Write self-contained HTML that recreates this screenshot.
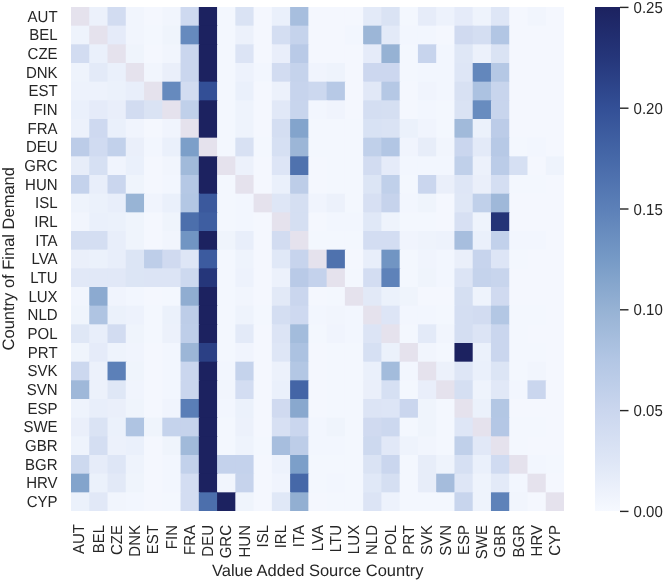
<!DOCTYPE html><html><head><meta charset="utf-8"><style>html,body{margin:0;padding:0;background:#fff;}svg{display:block;will-change:transform;}text{font-family:"Liberation Sans",sans-serif;text-rendering:geometricPrecision;fill:#262626;}</style></head><body>
<svg width="664" height="582" viewBox="0 0 664 582">
<rect width="664" height="582" fill="#fff"/>
<g>
<rect x="71.00" y="7.00" width="19.06" height="19.47" fill="#e5e2ed"/>
<rect x="89.26" y="7.00" width="19.06" height="19.47" fill="#ecf1fb"/>
<rect x="107.52" y="7.00" width="19.06" height="19.47" fill="#d2dcf1"/>
<rect x="125.78" y="7.00" width="19.06" height="19.47" fill="#f1f5fd"/>
<rect x="144.04" y="7.00" width="19.06" height="19.47" fill="#f4f7fe"/>
<rect x="162.30" y="7.00" width="19.06" height="19.47" fill="#f1f5fd"/>
<rect x="180.56" y="7.00" width="19.06" height="19.47" fill="#ced9f0"/>
<rect x="198.81" y="7.00" width="19.06" height="19.47" fill="#1c2260"/>
<rect x="217.07" y="7.00" width="19.06" height="19.47" fill="#f3f7fe"/>
<rect x="235.33" y="7.00" width="19.06" height="19.47" fill="#dae3f4"/>
<rect x="253.59" y="7.00" width="19.06" height="19.47" fill="#f4f7fe"/>
<rect x="271.85" y="7.00" width="19.06" height="19.47" fill="#eaf0fb"/>
<rect x="290.11" y="7.00" width="19.06" height="19.47" fill="#a7bede"/>
<rect x="308.37" y="7.00" width="19.06" height="19.47" fill="#f4f7fe"/>
<rect x="326.63" y="7.00" width="19.06" height="19.47" fill="#f4f7fe"/>
<rect x="344.89" y="7.00" width="19.06" height="19.47" fill="#f4f7fe"/>
<rect x="363.15" y="7.00" width="19.06" height="19.47" fill="#e3eaf8"/>
<rect x="381.41" y="7.00" width="19.06" height="19.47" fill="#dae3f4"/>
<rect x="399.67" y="7.00" width="19.06" height="19.47" fill="#f3f7fe"/>
<rect x="417.93" y="7.00" width="19.06" height="19.47" fill="#e6ecf9"/>
<rect x="436.19" y="7.00" width="19.06" height="19.47" fill="#edf2fc"/>
<rect x="454.44" y="7.00" width="19.06" height="19.47" fill="#e5ebf9"/>
<rect x="472.70" y="7.00" width="19.06" height="19.47" fill="#eef3fc"/>
<rect x="490.96" y="7.00" width="19.06" height="19.47" fill="#dee6f6"/>
<rect x="509.22" y="7.00" width="19.06" height="19.47" fill="#f4f7fe"/>
<rect x="527.48" y="7.00" width="19.06" height="19.47" fill="#f1f5fd"/>
<rect x="545.74" y="7.00" width="18.26" height="19.47" fill="#f4f7fe"/>
<rect x="71.00" y="25.67" width="19.06" height="19.47" fill="#eef3fc"/>
<rect x="89.26" y="25.67" width="19.06" height="19.47" fill="#e5e2ed"/>
<rect x="107.52" y="25.67" width="19.06" height="19.47" fill="#e5ebf9"/>
<rect x="125.78" y="25.67" width="19.06" height="19.47" fill="#f1f5fd"/>
<rect x="144.04" y="25.67" width="19.06" height="19.47" fill="#f3f7fe"/>
<rect x="162.30" y="25.67" width="19.06" height="19.47" fill="#eff4fc"/>
<rect x="180.56" y="25.67" width="19.06" height="19.47" fill="#668abe"/>
<rect x="198.81" y="25.67" width="19.06" height="19.47" fill="#1c2260"/>
<rect x="217.07" y="25.67" width="19.06" height="19.47" fill="#f3f7fe"/>
<rect x="235.33" y="25.67" width="19.06" height="19.47" fill="#ecf1fb"/>
<rect x="253.59" y="25.67" width="19.06" height="19.47" fill="#f4f7fe"/>
<rect x="271.85" y="25.67" width="19.06" height="19.47" fill="#d4def2"/>
<rect x="290.11" y="25.67" width="19.06" height="19.47" fill="#c5d3ec"/>
<rect x="308.37" y="25.67" width="19.06" height="19.47" fill="#f4f7fe"/>
<rect x="326.63" y="25.67" width="19.06" height="19.47" fill="#f4f7fe"/>
<rect x="344.89" y="25.67" width="19.06" height="19.47" fill="#f2f6fe"/>
<rect x="363.15" y="25.67" width="19.06" height="19.47" fill="#9cb6d7"/>
<rect x="381.41" y="25.67" width="19.06" height="19.47" fill="#e3eaf8"/>
<rect x="399.67" y="25.67" width="19.06" height="19.47" fill="#f2f6fe"/>
<rect x="417.93" y="25.67" width="19.06" height="19.47" fill="#f2f6fe"/>
<rect x="436.19" y="25.67" width="19.06" height="19.47" fill="#f4f7fe"/>
<rect x="454.44" y="25.67" width="19.06" height="19.47" fill="#d0daf0"/>
<rect x="472.70" y="25.67" width="19.06" height="19.47" fill="#d4def2"/>
<rect x="490.96" y="25.67" width="19.06" height="19.47" fill="#b2c6e4"/>
<rect x="509.22" y="25.67" width="19.06" height="19.47" fill="#f4f7fe"/>
<rect x="527.48" y="25.67" width="19.06" height="19.47" fill="#f4f7fe"/>
<rect x="545.74" y="25.67" width="18.26" height="19.47" fill="#f4f7fe"/>
<rect x="71.00" y="44.33" width="19.06" height="19.47" fill="#d2dcf1"/>
<rect x="89.26" y="44.33" width="19.06" height="19.47" fill="#eaf0fb"/>
<rect x="107.52" y="44.33" width="19.06" height="19.47" fill="#e5e2ed"/>
<rect x="125.78" y="44.33" width="19.06" height="19.47" fill="#eff4fc"/>
<rect x="144.04" y="44.33" width="19.06" height="19.47" fill="#f4f7fe"/>
<rect x="162.30" y="44.33" width="19.06" height="19.47" fill="#f1f5fd"/>
<rect x="180.56" y="44.33" width="19.06" height="19.47" fill="#cad6ee"/>
<rect x="198.81" y="44.33" width="19.06" height="19.47" fill="#1c2260"/>
<rect x="217.07" y="44.33" width="19.06" height="19.47" fill="#f3f7fe"/>
<rect x="235.33" y="44.33" width="19.06" height="19.47" fill="#dce4f5"/>
<rect x="253.59" y="44.33" width="19.06" height="19.47" fill="#f4f7fe"/>
<rect x="271.85" y="44.33" width="19.06" height="19.47" fill="#e9eefa"/>
<rect x="290.11" y="44.33" width="19.06" height="19.47" fill="#b9cae7"/>
<rect x="308.37" y="44.33" width="19.06" height="19.47" fill="#f4f7fe"/>
<rect x="326.63" y="44.33" width="19.06" height="19.47" fill="#f4f7fe"/>
<rect x="344.89" y="44.33" width="19.06" height="19.47" fill="#f4f7fe"/>
<rect x="363.15" y="44.33" width="19.06" height="19.47" fill="#e5ebf9"/>
<rect x="381.41" y="44.33" width="19.06" height="19.47" fill="#96b2d4"/>
<rect x="399.67" y="44.33" width="19.06" height="19.47" fill="#f3f7fe"/>
<rect x="417.93" y="44.33" width="19.06" height="19.47" fill="#c7d4ed"/>
<rect x="436.19" y="44.33" width="19.06" height="19.47" fill="#f2f6fe"/>
<rect x="454.44" y="44.33" width="19.06" height="19.47" fill="#dfe7f6"/>
<rect x="472.70" y="44.33" width="19.06" height="19.47" fill="#ecf1fb"/>
<rect x="490.96" y="44.33" width="19.06" height="19.47" fill="#dae3f4"/>
<rect x="509.22" y="44.33" width="19.06" height="19.47" fill="#f4f7fe"/>
<rect x="527.48" y="44.33" width="19.06" height="19.47" fill="#f4f7fe"/>
<rect x="545.74" y="44.33" width="18.26" height="19.47" fill="#f4f7fe"/>
<rect x="71.00" y="63.00" width="19.06" height="19.47" fill="#eef3fc"/>
<rect x="89.26" y="63.00" width="19.06" height="19.47" fill="#e3eaf8"/>
<rect x="107.52" y="63.00" width="19.06" height="19.47" fill="#eaf0fb"/>
<rect x="125.78" y="63.00" width="19.06" height="19.47" fill="#e5e2ed"/>
<rect x="144.04" y="63.00" width="19.06" height="19.47" fill="#f1f5fd"/>
<rect x="162.30" y="63.00" width="19.06" height="19.47" fill="#eaeffa"/>
<rect x="180.56" y="63.00" width="19.06" height="19.47" fill="#cad6ee"/>
<rect x="198.81" y="63.00" width="19.06" height="19.47" fill="#1c2260"/>
<rect x="217.07" y="63.00" width="19.06" height="19.47" fill="#f3f7fe"/>
<rect x="235.33" y="63.00" width="19.06" height="19.47" fill="#edf2fc"/>
<rect x="253.59" y="63.00" width="19.06" height="19.47" fill="#f2f6fe"/>
<rect x="271.85" y="63.00" width="19.06" height="19.47" fill="#d2dcf1"/>
<rect x="290.11" y="63.00" width="19.06" height="19.47" fill="#c5d3ec"/>
<rect x="308.37" y="63.00" width="19.06" height="19.47" fill="#f0f4fd"/>
<rect x="326.63" y="63.00" width="19.06" height="19.47" fill="#eef3fc"/>
<rect x="344.89" y="63.00" width="19.06" height="19.47" fill="#f4f7fe"/>
<rect x="363.15" y="63.00" width="19.06" height="19.47" fill="#ccd7ef"/>
<rect x="381.41" y="63.00" width="19.06" height="19.47" fill="#ccd7ef"/>
<rect x="399.67" y="63.00" width="19.06" height="19.47" fill="#f3f7fe"/>
<rect x="417.93" y="63.00" width="19.06" height="19.47" fill="#f2f6fe"/>
<rect x="436.19" y="63.00" width="19.06" height="19.47" fill="#f2f6fe"/>
<rect x="454.44" y="63.00" width="19.06" height="19.47" fill="#dee6f6"/>
<rect x="472.70" y="63.00" width="19.06" height="19.47" fill="#6387bc"/>
<rect x="490.96" y="63.00" width="19.06" height="19.47" fill="#b5c8e5"/>
<rect x="509.22" y="63.00" width="19.06" height="19.47" fill="#f4f7fe"/>
<rect x="527.48" y="63.00" width="19.06" height="19.47" fill="#f4f7fe"/>
<rect x="545.74" y="63.00" width="18.26" height="19.47" fill="#f4f7fe"/>
<rect x="71.00" y="81.67" width="19.06" height="19.47" fill="#edf2fc"/>
<rect x="89.26" y="81.67" width="19.06" height="19.47" fill="#edf2fc"/>
<rect x="107.52" y="81.67" width="19.06" height="19.47" fill="#ebf1fb"/>
<rect x="125.78" y="81.67" width="19.06" height="19.47" fill="#e8eefa"/>
<rect x="144.04" y="81.67" width="19.06" height="19.47" fill="#e5e2ed"/>
<rect x="162.30" y="81.67" width="19.06" height="19.47" fill="#668abe"/>
<rect x="180.56" y="81.67" width="19.06" height="19.47" fill="#d2dcf1"/>
<rect x="198.81" y="81.67" width="19.06" height="19.47" fill="#334f96"/>
<rect x="217.07" y="81.67" width="19.06" height="19.47" fill="#f3f7fe"/>
<rect x="235.33" y="81.67" width="19.06" height="19.47" fill="#eaf0fb"/>
<rect x="253.59" y="81.67" width="19.06" height="19.47" fill="#f4f7fe"/>
<rect x="271.85" y="81.67" width="19.06" height="19.47" fill="#ecf1fb"/>
<rect x="290.11" y="81.67" width="19.06" height="19.47" fill="#c7d4ed"/>
<rect x="308.37" y="81.67" width="19.06" height="19.47" fill="#ccd8ef"/>
<rect x="326.63" y="81.67" width="19.06" height="19.47" fill="#b7c9e6"/>
<rect x="344.89" y="81.67" width="19.06" height="19.47" fill="#f4f7fe"/>
<rect x="363.15" y="81.67" width="19.06" height="19.47" fill="#e1e8f7"/>
<rect x="381.41" y="81.67" width="19.06" height="19.47" fill="#b5c8e5"/>
<rect x="399.67" y="81.67" width="19.06" height="19.47" fill="#f4f7fe"/>
<rect x="417.93" y="81.67" width="19.06" height="19.47" fill="#f0f4fd"/>
<rect x="436.19" y="81.67" width="19.06" height="19.47" fill="#f2f6fe"/>
<rect x="454.44" y="81.67" width="19.06" height="19.47" fill="#d8e1f3"/>
<rect x="472.70" y="81.67" width="19.06" height="19.47" fill="#acc2e1"/>
<rect x="490.96" y="81.67" width="19.06" height="19.47" fill="#c8d5ed"/>
<rect x="509.22" y="81.67" width="19.06" height="19.47" fill="#f4f7fe"/>
<rect x="527.48" y="81.67" width="19.06" height="19.47" fill="#f4f7fe"/>
<rect x="545.74" y="81.67" width="18.26" height="19.47" fill="#f4f7fe"/>
<rect x="71.00" y="100.33" width="19.06" height="19.47" fill="#eaf0fb"/>
<rect x="89.26" y="100.33" width="19.06" height="19.47" fill="#e5ebf9"/>
<rect x="107.52" y="100.33" width="19.06" height="19.47" fill="#e9eefa"/>
<rect x="125.78" y="100.33" width="19.06" height="19.47" fill="#d2dcf1"/>
<rect x="144.04" y="100.33" width="19.06" height="19.47" fill="#dae3f4"/>
<rect x="162.30" y="100.33" width="19.06" height="19.47" fill="#e5e2ed"/>
<rect x="180.56" y="100.33" width="19.06" height="19.47" fill="#c0d0ea"/>
<rect x="198.81" y="100.33" width="19.06" height="19.47" fill="#1c2260"/>
<rect x="217.07" y="100.33" width="19.06" height="19.47" fill="#f3f7fe"/>
<rect x="235.33" y="100.33" width="19.06" height="19.47" fill="#eef3fc"/>
<rect x="253.59" y="100.33" width="19.06" height="19.47" fill="#f4f7fe"/>
<rect x="271.85" y="100.33" width="19.06" height="19.47" fill="#e1e8f7"/>
<rect x="290.11" y="100.33" width="19.06" height="19.47" fill="#c8d5ed"/>
<rect x="308.37" y="100.33" width="19.06" height="19.47" fill="#f2f6fe"/>
<rect x="326.63" y="100.33" width="19.06" height="19.47" fill="#f0f4fd"/>
<rect x="344.89" y="100.33" width="19.06" height="19.47" fill="#f4f7fe"/>
<rect x="363.15" y="100.33" width="19.06" height="19.47" fill="#d4def2"/>
<rect x="381.41" y="100.33" width="19.06" height="19.47" fill="#d5dff2"/>
<rect x="399.67" y="100.33" width="19.06" height="19.47" fill="#f4f7fe"/>
<rect x="417.93" y="100.33" width="19.06" height="19.47" fill="#f2f6fe"/>
<rect x="436.19" y="100.33" width="19.06" height="19.47" fill="#f3f7fe"/>
<rect x="454.44" y="100.33" width="19.06" height="19.47" fill="#dae3f4"/>
<rect x="472.70" y="100.33" width="19.06" height="19.47" fill="#688cbf"/>
<rect x="490.96" y="100.33" width="19.06" height="19.47" fill="#c8d5ed"/>
<rect x="509.22" y="100.33" width="19.06" height="19.47" fill="#f4f7fe"/>
<rect x="527.48" y="100.33" width="19.06" height="19.47" fill="#f4f7fe"/>
<rect x="545.74" y="100.33" width="18.26" height="19.47" fill="#f4f7fe"/>
<rect x="71.00" y="119.00" width="19.06" height="19.47" fill="#ecf1fb"/>
<rect x="89.26" y="119.00" width="19.06" height="19.47" fill="#ced9f0"/>
<rect x="107.52" y="119.00" width="19.06" height="19.47" fill="#eaf0fb"/>
<rect x="125.78" y="119.00" width="19.06" height="19.47" fill="#f0f4fd"/>
<rect x="144.04" y="119.00" width="19.06" height="19.47" fill="#f4f7fe"/>
<rect x="162.30" y="119.00" width="19.06" height="19.47" fill="#f0f4fd"/>
<rect x="180.56" y="119.00" width="19.06" height="19.47" fill="#e5e2ed"/>
<rect x="198.81" y="119.00" width="19.06" height="19.47" fill="#1c2260"/>
<rect x="217.07" y="119.00" width="19.06" height="19.47" fill="#f3f7fe"/>
<rect x="235.33" y="119.00" width="19.06" height="19.47" fill="#eef3fc"/>
<rect x="253.59" y="119.00" width="19.06" height="19.47" fill="#f4f7fe"/>
<rect x="271.85" y="119.00" width="19.06" height="19.47" fill="#d4def2"/>
<rect x="290.11" y="119.00" width="19.06" height="19.47" fill="#83a4cc"/>
<rect x="308.37" y="119.00" width="19.06" height="19.47" fill="#f3f7fe"/>
<rect x="326.63" y="119.00" width="19.06" height="19.47" fill="#f3f7fe"/>
<rect x="344.89" y="119.00" width="19.06" height="19.47" fill="#f3f7fe"/>
<rect x="363.15" y="119.00" width="19.06" height="19.47" fill="#d8e2f4"/>
<rect x="381.41" y="119.00" width="19.06" height="19.47" fill="#dae3f4"/>
<rect x="399.67" y="119.00" width="19.06" height="19.47" fill="#ebf1fb"/>
<rect x="417.93" y="119.00" width="19.06" height="19.47" fill="#f0f4fd"/>
<rect x="436.19" y="119.00" width="19.06" height="19.47" fill="#f3f7fe"/>
<rect x="454.44" y="119.00" width="19.06" height="19.47" fill="#a1bada"/>
<rect x="472.70" y="119.00" width="19.06" height="19.47" fill="#ebf1fb"/>
<rect x="490.96" y="119.00" width="19.06" height="19.47" fill="#bccce8"/>
<rect x="509.22" y="119.00" width="19.06" height="19.47" fill="#f4f7fe"/>
<rect x="527.48" y="119.00" width="19.06" height="19.47" fill="#f4f7fe"/>
<rect x="545.74" y="119.00" width="18.26" height="19.47" fill="#f4f7fe"/>
<rect x="71.00" y="137.67" width="19.06" height="19.47" fill="#bccce8"/>
<rect x="89.26" y="137.67" width="19.06" height="19.47" fill="#d0dbf1"/>
<rect x="107.52" y="137.67" width="19.06" height="19.47" fill="#c2d1eb"/>
<rect x="125.78" y="137.67" width="19.06" height="19.47" fill="#eaeffa"/>
<rect x="144.04" y="137.67" width="19.06" height="19.47" fill="#f2f6fe"/>
<rect x="162.30" y="137.67" width="19.06" height="19.47" fill="#eaf0fb"/>
<rect x="180.56" y="137.67" width="19.06" height="19.47" fill="#7c9fc9"/>
<rect x="198.81" y="137.67" width="19.06" height="19.47" fill="#e5e2ed"/>
<rect x="217.07" y="137.67" width="19.06" height="19.47" fill="#f3f7fe"/>
<rect x="235.33" y="137.67" width="19.06" height="19.47" fill="#d8e1f3"/>
<rect x="253.59" y="137.67" width="19.06" height="19.47" fill="#f3f7fe"/>
<rect x="271.85" y="137.67" width="19.06" height="19.47" fill="#d6e0f3"/>
<rect x="290.11" y="137.67" width="19.06" height="19.47" fill="#9cb6d7"/>
<rect x="308.37" y="137.67" width="19.06" height="19.47" fill="#f3f7fe"/>
<rect x="326.63" y="137.67" width="19.06" height="19.47" fill="#f3f7fe"/>
<rect x="344.89" y="137.67" width="19.06" height="19.47" fill="#f3f7fe"/>
<rect x="363.15" y="137.67" width="19.06" height="19.47" fill="#c0d0ea"/>
<rect x="381.41" y="137.67" width="19.06" height="19.47" fill="#b2c6e4"/>
<rect x="399.67" y="137.67" width="19.06" height="19.47" fill="#f0f4fd"/>
<rect x="417.93" y="137.67" width="19.06" height="19.47" fill="#e7edf9"/>
<rect x="436.19" y="137.67" width="19.06" height="19.47" fill="#f1f5fd"/>
<rect x="454.44" y="137.67" width="19.06" height="19.47" fill="#cad6ee"/>
<rect x="472.70" y="137.67" width="19.06" height="19.47" fill="#e3eaf8"/>
<rect x="490.96" y="137.67" width="19.06" height="19.47" fill="#b7c9e6"/>
<rect x="509.22" y="137.67" width="19.06" height="19.47" fill="#f3f7fe"/>
<rect x="527.48" y="137.67" width="19.06" height="19.47" fill="#f2f6fe"/>
<rect x="545.74" y="137.67" width="18.26" height="19.47" fill="#f4f7fe"/>
<rect x="71.00" y="156.33" width="19.06" height="19.47" fill="#e7edf9"/>
<rect x="89.26" y="156.33" width="19.06" height="19.47" fill="#d6e0f3"/>
<rect x="107.52" y="156.33" width="19.06" height="19.47" fill="#f0f4fd"/>
<rect x="125.78" y="156.33" width="19.06" height="19.47" fill="#eaf0fb"/>
<rect x="144.04" y="156.33" width="19.06" height="19.47" fill="#f4f7fe"/>
<rect x="162.30" y="156.33" width="19.06" height="19.47" fill="#f1f5fd"/>
<rect x="180.56" y="156.33" width="19.06" height="19.47" fill="#a1bada"/>
<rect x="198.81" y="156.33" width="19.06" height="19.47" fill="#1c2260"/>
<rect x="217.07" y="156.33" width="19.06" height="19.47" fill="#e5e2ed"/>
<rect x="235.33" y="156.33" width="19.06" height="19.47" fill="#ecf1fb"/>
<rect x="253.59" y="156.33" width="19.06" height="19.47" fill="#f4f7fe"/>
<rect x="271.85" y="156.33" width="19.06" height="19.47" fill="#dde5f6"/>
<rect x="290.11" y="156.33" width="19.06" height="19.47" fill="#4f72ae"/>
<rect x="308.37" y="156.33" width="19.06" height="19.47" fill="#f4f7fe"/>
<rect x="326.63" y="156.33" width="19.06" height="19.47" fill="#f3f7fe"/>
<rect x="344.89" y="156.33" width="19.06" height="19.47" fill="#f3f7fe"/>
<rect x="363.15" y="156.33" width="19.06" height="19.47" fill="#d2dcf1"/>
<rect x="381.41" y="156.33" width="19.06" height="19.47" fill="#e5ebf9"/>
<rect x="399.67" y="156.33" width="19.06" height="19.47" fill="#f2f6fe"/>
<rect x="417.93" y="156.33" width="19.06" height="19.47" fill="#f2f6fe"/>
<rect x="436.19" y="156.33" width="19.06" height="19.47" fill="#f2f6fe"/>
<rect x="454.44" y="156.33" width="19.06" height="19.47" fill="#c0d0ea"/>
<rect x="472.70" y="156.33" width="19.06" height="19.47" fill="#ecf1fb"/>
<rect x="490.96" y="156.33" width="19.06" height="19.47" fill="#bbcce8"/>
<rect x="509.22" y="156.33" width="19.06" height="19.47" fill="#d6e0f3"/>
<rect x="527.48" y="156.33" width="19.06" height="19.47" fill="#f4f7fe"/>
<rect x="545.74" y="156.33" width="18.26" height="19.47" fill="#eef3fc"/>
<rect x="71.00" y="175.00" width="19.06" height="19.47" fill="#c4d2ec"/>
<rect x="89.26" y="175.00" width="19.06" height="19.47" fill="#e8eefa"/>
<rect x="107.52" y="175.00" width="19.06" height="19.47" fill="#cad6ee"/>
<rect x="125.78" y="175.00" width="19.06" height="19.47" fill="#eff4fc"/>
<rect x="144.04" y="175.00" width="19.06" height="19.47" fill="#f4f7fe"/>
<rect x="162.30" y="175.00" width="19.06" height="19.47" fill="#f2f6fe"/>
<rect x="180.56" y="175.00" width="19.06" height="19.47" fill="#b5c8e5"/>
<rect x="198.81" y="175.00" width="19.06" height="19.47" fill="#1c2260"/>
<rect x="217.07" y="175.00" width="19.06" height="19.47" fill="#f3f7fe"/>
<rect x="235.33" y="175.00" width="19.06" height="19.47" fill="#e5e2ed"/>
<rect x="253.59" y="175.00" width="19.06" height="19.47" fill="#f4f7fe"/>
<rect x="271.85" y="175.00" width="19.06" height="19.47" fill="#eaf0fb"/>
<rect x="290.11" y="175.00" width="19.06" height="19.47" fill="#bdcde8"/>
<rect x="308.37" y="175.00" width="19.06" height="19.47" fill="#f4f7fe"/>
<rect x="326.63" y="175.00" width="19.06" height="19.47" fill="#f3f7fe"/>
<rect x="344.89" y="175.00" width="19.06" height="19.47" fill="#f3f7fe"/>
<rect x="363.15" y="175.00" width="19.06" height="19.47" fill="#dce5f5"/>
<rect x="381.41" y="175.00" width="19.06" height="19.47" fill="#c0d0ea"/>
<rect x="399.67" y="175.00" width="19.06" height="19.47" fill="#f3f7fe"/>
<rect x="417.93" y="175.00" width="19.06" height="19.47" fill="#cad6ee"/>
<rect x="436.19" y="175.00" width="19.06" height="19.47" fill="#eaeffa"/>
<rect x="454.44" y="175.00" width="19.06" height="19.47" fill="#dee6f6"/>
<rect x="472.70" y="175.00" width="19.06" height="19.47" fill="#eaeffa"/>
<rect x="490.96" y="175.00" width="19.06" height="19.47" fill="#d4def2"/>
<rect x="509.22" y="175.00" width="19.06" height="19.47" fill="#f3f7fe"/>
<rect x="527.48" y="175.00" width="19.06" height="19.47" fill="#f3f7fe"/>
<rect x="545.74" y="175.00" width="18.26" height="19.47" fill="#f4f7fe"/>
<rect x="71.00" y="193.67" width="19.06" height="19.47" fill="#eef3fc"/>
<rect x="89.26" y="193.67" width="19.06" height="19.47" fill="#ebf1fb"/>
<rect x="107.52" y="193.67" width="19.06" height="19.47" fill="#e8eefa"/>
<rect x="125.78" y="193.67" width="19.06" height="19.47" fill="#98b4d5"/>
<rect x="144.04" y="193.67" width="19.06" height="19.47" fill="#f0f4fd"/>
<rect x="162.30" y="193.67" width="19.06" height="19.47" fill="#eaf0fb"/>
<rect x="180.56" y="193.67" width="19.06" height="19.47" fill="#b3c7e4"/>
<rect x="198.81" y="193.67" width="19.06" height="19.47" fill="#3b599d"/>
<rect x="217.07" y="193.67" width="19.06" height="19.47" fill="#f3f7fe"/>
<rect x="235.33" y="193.67" width="19.06" height="19.47" fill="#f2f6fe"/>
<rect x="253.59" y="193.67" width="19.06" height="19.47" fill="#e5e2ed"/>
<rect x="271.85" y="193.67" width="19.06" height="19.47" fill="#dee6f6"/>
<rect x="290.11" y="193.67" width="19.06" height="19.47" fill="#d5dff2"/>
<rect x="308.37" y="193.67" width="19.06" height="19.47" fill="#f0f4fd"/>
<rect x="326.63" y="193.67" width="19.06" height="19.47" fill="#ecf1fb"/>
<rect x="344.89" y="193.67" width="19.06" height="19.47" fill="#f3f7fe"/>
<rect x="363.15" y="193.67" width="19.06" height="19.47" fill="#d7e0f3"/>
<rect x="381.41" y="193.67" width="19.06" height="19.47" fill="#c6d3ec"/>
<rect x="399.67" y="193.67" width="19.06" height="19.47" fill="#f2f6fe"/>
<rect x="417.93" y="193.67" width="19.06" height="19.47" fill="#eff4fc"/>
<rect x="436.19" y="193.67" width="19.06" height="19.47" fill="#f4f7fe"/>
<rect x="454.44" y="193.67" width="19.06" height="19.47" fill="#dfe7f6"/>
<rect x="472.70" y="193.67" width="19.06" height="19.47" fill="#c0d0ea"/>
<rect x="490.96" y="193.67" width="19.06" height="19.47" fill="#9fb8d9"/>
<rect x="509.22" y="193.67" width="19.06" height="19.47" fill="#f4f7fe"/>
<rect x="527.48" y="193.67" width="19.06" height="19.47" fill="#f4f7fe"/>
<rect x="545.74" y="193.67" width="18.26" height="19.47" fill="#f4f7fe"/>
<rect x="71.00" y="212.33" width="19.06" height="19.47" fill="#f1f5fd"/>
<rect x="89.26" y="212.33" width="19.06" height="19.47" fill="#eaf0fb"/>
<rect x="107.52" y="212.33" width="19.06" height="19.47" fill="#ebf1fb"/>
<rect x="125.78" y="212.33" width="19.06" height="19.47" fill="#eff4fc"/>
<rect x="144.04" y="212.33" width="19.06" height="19.47" fill="#f4f7fe"/>
<rect x="162.30" y="212.33" width="19.06" height="19.47" fill="#eff4fc"/>
<rect x="180.56" y="212.33" width="19.06" height="19.47" fill="#4c6fac"/>
<rect x="198.81" y="212.33" width="19.06" height="19.47" fill="#3e5ea1"/>
<rect x="217.07" y="212.33" width="19.06" height="19.47" fill="#f3f7fe"/>
<rect x="235.33" y="212.33" width="19.06" height="19.47" fill="#f2f6fe"/>
<rect x="253.59" y="212.33" width="19.06" height="19.47" fill="#f4f7fe"/>
<rect x="271.85" y="212.33" width="19.06" height="19.47" fill="#e5e2ed"/>
<rect x="290.11" y="212.33" width="19.06" height="19.47" fill="#d5dff2"/>
<rect x="308.37" y="212.33" width="19.06" height="19.47" fill="#f4f7fe"/>
<rect x="326.63" y="212.33" width="19.06" height="19.47" fill="#f2f6fe"/>
<rect x="344.89" y="212.33" width="19.06" height="19.47" fill="#f2f6fe"/>
<rect x="363.15" y="212.33" width="19.06" height="19.47" fill="#e0e8f7"/>
<rect x="381.41" y="212.33" width="19.06" height="19.47" fill="#eef3fc"/>
<rect x="399.67" y="212.33" width="19.06" height="19.47" fill="#f3f7fe"/>
<rect x="417.93" y="212.33" width="19.06" height="19.47" fill="#f3f7fe"/>
<rect x="436.19" y="212.33" width="19.06" height="19.47" fill="#f4f7fe"/>
<rect x="454.44" y="212.33" width="19.06" height="19.47" fill="#d7e0f3"/>
<rect x="472.70" y="212.33" width="19.06" height="19.47" fill="#eef3fc"/>
<rect x="490.96" y="212.33" width="19.06" height="19.47" fill="#243477"/>
<rect x="509.22" y="212.33" width="19.06" height="19.47" fill="#f4f7fe"/>
<rect x="527.48" y="212.33" width="19.06" height="19.47" fill="#f4f7fe"/>
<rect x="545.74" y="212.33" width="18.26" height="19.47" fill="#f4f7fe"/>
<rect x="71.00" y="231.00" width="19.06" height="19.47" fill="#d4def2"/>
<rect x="89.26" y="231.00" width="19.06" height="19.47" fill="#d4def2"/>
<rect x="107.52" y="231.00" width="19.06" height="19.47" fill="#e8eefa"/>
<rect x="125.78" y="231.00" width="19.06" height="19.47" fill="#eff4fc"/>
<rect x="144.04" y="231.00" width="19.06" height="19.47" fill="#f4f7fe"/>
<rect x="162.30" y="231.00" width="19.06" height="19.47" fill="#f1f5fd"/>
<rect x="180.56" y="231.00" width="19.06" height="19.47" fill="#7195c3"/>
<rect x="198.81" y="231.00" width="19.06" height="19.47" fill="#1c2260"/>
<rect x="217.07" y="231.00" width="19.06" height="19.47" fill="#eff4fc"/>
<rect x="235.33" y="231.00" width="19.06" height="19.47" fill="#e8eefa"/>
<rect x="253.59" y="231.00" width="19.06" height="19.47" fill="#f4f7fe"/>
<rect x="271.85" y="231.00" width="19.06" height="19.47" fill="#d2dcf1"/>
<rect x="290.11" y="231.00" width="19.06" height="19.47" fill="#e5e2ed"/>
<rect x="308.37" y="231.00" width="19.06" height="19.47" fill="#f3f7fe"/>
<rect x="326.63" y="231.00" width="19.06" height="19.47" fill="#f3f7fe"/>
<rect x="344.89" y="231.00" width="19.06" height="19.47" fill="#f3f7fe"/>
<rect x="363.15" y="231.00" width="19.06" height="19.47" fill="#d3ddf2"/>
<rect x="381.41" y="231.00" width="19.06" height="19.47" fill="#d3ddf2"/>
<rect x="399.67" y="231.00" width="19.06" height="19.47" fill="#f0f4fd"/>
<rect x="417.93" y="231.00" width="19.06" height="19.47" fill="#eef3fc"/>
<rect x="436.19" y="231.00" width="19.06" height="19.47" fill="#edf2fc"/>
<rect x="454.44" y="231.00" width="19.06" height="19.47" fill="#a7bede"/>
<rect x="472.70" y="231.00" width="19.06" height="19.47" fill="#eaf0fb"/>
<rect x="490.96" y="231.00" width="19.06" height="19.47" fill="#c2d1eb"/>
<rect x="509.22" y="231.00" width="19.06" height="19.47" fill="#f2f6fe"/>
<rect x="527.48" y="231.00" width="19.06" height="19.47" fill="#f2f6fe"/>
<rect x="545.74" y="231.00" width="18.26" height="19.47" fill="#f4f7fe"/>
<rect x="71.00" y="249.67" width="19.06" height="19.47" fill="#eaeffa"/>
<rect x="89.26" y="249.67" width="19.06" height="19.47" fill="#ebf1fb"/>
<rect x="107.52" y="249.67" width="19.06" height="19.47" fill="#e8eefa"/>
<rect x="125.78" y="249.67" width="19.06" height="19.47" fill="#dce5f5"/>
<rect x="144.04" y="249.67" width="19.06" height="19.47" fill="#becee9"/>
<rect x="162.30" y="249.67" width="19.06" height="19.47" fill="#d0daf0"/>
<rect x="180.56" y="249.67" width="19.06" height="19.47" fill="#dee6f6"/>
<rect x="198.81" y="249.67" width="19.06" height="19.47" fill="#3c5b9f"/>
<rect x="217.07" y="249.67" width="19.06" height="19.47" fill="#f3f7fe"/>
<rect x="235.33" y="249.67" width="19.06" height="19.47" fill="#eef3fc"/>
<rect x="253.59" y="249.67" width="19.06" height="19.47" fill="#f4f7fe"/>
<rect x="271.85" y="249.67" width="19.06" height="19.47" fill="#e0e8f7"/>
<rect x="290.11" y="249.67" width="19.06" height="19.47" fill="#c7d4ed"/>
<rect x="308.37" y="249.67" width="19.06" height="19.47" fill="#e5e2ed"/>
<rect x="326.63" y="249.67" width="19.06" height="19.47" fill="#4f72ae"/>
<rect x="344.89" y="249.67" width="19.06" height="19.47" fill="#f4f7fe"/>
<rect x="363.15" y="249.67" width="19.06" height="19.47" fill="#e8eefa"/>
<rect x="381.41" y="249.67" width="19.06" height="19.47" fill="#7195c3"/>
<rect x="399.67" y="249.67" width="19.06" height="19.47" fill="#f3f7fe"/>
<rect x="417.93" y="249.67" width="19.06" height="19.47" fill="#f0f4fd"/>
<rect x="436.19" y="249.67" width="19.06" height="19.47" fill="#f2f6fe"/>
<rect x="454.44" y="249.67" width="19.06" height="19.47" fill="#eaeffa"/>
<rect x="472.70" y="249.67" width="19.06" height="19.47" fill="#c7d4ed"/>
<rect x="490.96" y="249.67" width="19.06" height="19.47" fill="#dde5f6"/>
<rect x="509.22" y="249.67" width="19.06" height="19.47" fill="#f3f7fe"/>
<rect x="527.48" y="249.67" width="19.06" height="19.47" fill="#f4f7fe"/>
<rect x="545.74" y="249.67" width="18.26" height="19.47" fill="#f4f7fe"/>
<rect x="71.00" y="268.33" width="19.06" height="19.47" fill="#e1e8f7"/>
<rect x="89.26" y="268.33" width="19.06" height="19.47" fill="#e1e8f7"/>
<rect x="107.52" y="268.33" width="19.06" height="19.47" fill="#e1e8f7"/>
<rect x="125.78" y="268.33" width="19.06" height="19.47" fill="#dce5f5"/>
<rect x="144.04" y="268.33" width="19.06" height="19.47" fill="#dce4f5"/>
<rect x="162.30" y="268.33" width="19.06" height="19.47" fill="#dce4f5"/>
<rect x="180.56" y="268.33" width="19.06" height="19.47" fill="#cdd9ef"/>
<rect x="198.81" y="268.33" width="19.06" height="19.47" fill="#25367a"/>
<rect x="217.07" y="268.33" width="19.06" height="19.47" fill="#f3f7fe"/>
<rect x="235.33" y="268.33" width="19.06" height="19.47" fill="#edf2fc"/>
<rect x="253.59" y="268.33" width="19.06" height="19.47" fill="#f4f7fe"/>
<rect x="271.85" y="268.33" width="19.06" height="19.47" fill="#ecf1fb"/>
<rect x="290.11" y="268.33" width="19.06" height="19.47" fill="#b9cae7"/>
<rect x="308.37" y="268.33" width="19.06" height="19.47" fill="#c4d2ec"/>
<rect x="326.63" y="268.33" width="19.06" height="19.47" fill="#e5e2ed"/>
<rect x="344.89" y="268.33" width="19.06" height="19.47" fill="#f3f7fe"/>
<rect x="363.15" y="268.33" width="19.06" height="19.47" fill="#d3ddf2"/>
<rect x="381.41" y="268.33" width="19.06" height="19.47" fill="#5e82b9"/>
<rect x="399.67" y="268.33" width="19.06" height="19.47" fill="#f3f7fe"/>
<rect x="417.93" y="268.33" width="19.06" height="19.47" fill="#eff4fc"/>
<rect x="436.19" y="268.33" width="19.06" height="19.47" fill="#f2f6fe"/>
<rect x="454.44" y="268.33" width="19.06" height="19.47" fill="#dce4f5"/>
<rect x="472.70" y="268.33" width="19.06" height="19.47" fill="#c5d3ec"/>
<rect x="490.96" y="268.33" width="19.06" height="19.47" fill="#c8d5ed"/>
<rect x="509.22" y="268.33" width="19.06" height="19.47" fill="#f4f7fe"/>
<rect x="527.48" y="268.33" width="19.06" height="19.47" fill="#f4f7fe"/>
<rect x="545.74" y="268.33" width="18.26" height="19.47" fill="#f4f7fe"/>
<rect x="71.00" y="287.00" width="19.06" height="19.47" fill="#f1f5fd"/>
<rect x="89.26" y="287.00" width="19.06" height="19.47" fill="#8caad0"/>
<rect x="107.52" y="287.00" width="19.06" height="19.47" fill="#f0f4fd"/>
<rect x="125.78" y="287.00" width="19.06" height="19.47" fill="#f2f6fe"/>
<rect x="144.04" y="287.00" width="19.06" height="19.47" fill="#f4f7fe"/>
<rect x="162.30" y="287.00" width="19.06" height="19.47" fill="#f3f7fe"/>
<rect x="180.56" y="287.00" width="19.06" height="19.47" fill="#90add1"/>
<rect x="198.81" y="287.00" width="19.06" height="19.47" fill="#1c2260"/>
<rect x="217.07" y="287.00" width="19.06" height="19.47" fill="#f3f7fe"/>
<rect x="235.33" y="287.00" width="19.06" height="19.47" fill="#f1f5fd"/>
<rect x="253.59" y="287.00" width="19.06" height="19.47" fill="#f4f7fe"/>
<rect x="271.85" y="287.00" width="19.06" height="19.47" fill="#e2e9f7"/>
<rect x="290.11" y="287.00" width="19.06" height="19.47" fill="#cad6ee"/>
<rect x="308.37" y="287.00" width="19.06" height="19.47" fill="#f4f7fe"/>
<rect x="326.63" y="287.00" width="19.06" height="19.47" fill="#f3f7fe"/>
<rect x="344.89" y="287.00" width="19.06" height="19.47" fill="#e5e2ed"/>
<rect x="363.15" y="287.00" width="19.06" height="19.47" fill="#e2e9f7"/>
<rect x="381.41" y="287.00" width="19.06" height="19.47" fill="#ebf1fb"/>
<rect x="399.67" y="287.00" width="19.06" height="19.47" fill="#eff4fc"/>
<rect x="417.93" y="287.00" width="19.06" height="19.47" fill="#f4f7fe"/>
<rect x="436.19" y="287.00" width="19.06" height="19.47" fill="#f4f7fe"/>
<rect x="454.44" y="287.00" width="19.06" height="19.47" fill="#d5dff2"/>
<rect x="472.70" y="287.00" width="19.06" height="19.47" fill="#eef3fc"/>
<rect x="490.96" y="287.00" width="19.06" height="19.47" fill="#d0daf0"/>
<rect x="509.22" y="287.00" width="19.06" height="19.47" fill="#f4f7fe"/>
<rect x="527.48" y="287.00" width="19.06" height="19.47" fill="#f4f7fe"/>
<rect x="545.74" y="287.00" width="18.26" height="19.47" fill="#f4f7fe"/>
<rect x="71.00" y="305.67" width="19.06" height="19.47" fill="#eff4fc"/>
<rect x="89.26" y="305.67" width="19.06" height="19.47" fill="#afc4e2"/>
<rect x="107.52" y="305.67" width="19.06" height="19.47" fill="#ebf1fb"/>
<rect x="125.78" y="305.67" width="19.06" height="19.47" fill="#edf2fc"/>
<rect x="144.04" y="305.67" width="19.06" height="19.47" fill="#f3f7fe"/>
<rect x="162.30" y="305.67" width="19.06" height="19.47" fill="#ebf1fb"/>
<rect x="180.56" y="305.67" width="19.06" height="19.47" fill="#bdcde8"/>
<rect x="198.81" y="305.67" width="19.06" height="19.47" fill="#1c2260"/>
<rect x="217.07" y="305.67" width="19.06" height="19.47" fill="#f3f7fe"/>
<rect x="235.33" y="305.67" width="19.06" height="19.47" fill="#eef3fc"/>
<rect x="253.59" y="305.67" width="19.06" height="19.47" fill="#f3f7fe"/>
<rect x="271.85" y="305.67" width="19.06" height="19.47" fill="#d4def2"/>
<rect x="290.11" y="305.67" width="19.06" height="19.47" fill="#ced9f0"/>
<rect x="308.37" y="305.67" width="19.06" height="19.47" fill="#f2f6fe"/>
<rect x="326.63" y="305.67" width="19.06" height="19.47" fill="#f1f5fd"/>
<rect x="344.89" y="305.67" width="19.06" height="19.47" fill="#f2f6fe"/>
<rect x="363.15" y="305.67" width="19.06" height="19.47" fill="#e5e2ed"/>
<rect x="381.41" y="305.67" width="19.06" height="19.47" fill="#dde5f6"/>
<rect x="399.67" y="305.67" width="19.06" height="19.47" fill="#f2f6fe"/>
<rect x="417.93" y="305.67" width="19.06" height="19.47" fill="#f2f6fe"/>
<rect x="436.19" y="305.67" width="19.06" height="19.47" fill="#f3f7fe"/>
<rect x="454.44" y="305.67" width="19.06" height="19.47" fill="#d4def2"/>
<rect x="472.70" y="305.67" width="19.06" height="19.47" fill="#d2dcf1"/>
<rect x="490.96" y="305.67" width="19.06" height="19.47" fill="#b3c7e4"/>
<rect x="509.22" y="305.67" width="19.06" height="19.47" fill="#f3f7fe"/>
<rect x="527.48" y="305.67" width="19.06" height="19.47" fill="#f3f7fe"/>
<rect x="545.74" y="305.67" width="18.26" height="19.47" fill="#f4f7fe"/>
<rect x="71.00" y="324.33" width="19.06" height="19.47" fill="#dfe7f6"/>
<rect x="89.26" y="324.33" width="19.06" height="19.47" fill="#e8eefa"/>
<rect x="107.52" y="324.33" width="19.06" height="19.47" fill="#d2dcf1"/>
<rect x="125.78" y="324.33" width="19.06" height="19.47" fill="#eff4fc"/>
<rect x="144.04" y="324.33" width="19.06" height="19.47" fill="#f3f7fe"/>
<rect x="162.30" y="324.33" width="19.06" height="19.47" fill="#ecf1fb"/>
<rect x="180.56" y="324.33" width="19.06" height="19.47" fill="#becee9"/>
<rect x="198.81" y="324.33" width="19.06" height="19.47" fill="#1c2260"/>
<rect x="217.07" y="324.33" width="19.06" height="19.47" fill="#f3f7fe"/>
<rect x="235.33" y="324.33" width="19.06" height="19.47" fill="#e3eaf8"/>
<rect x="253.59" y="324.33" width="19.06" height="19.47" fill="#f4f7fe"/>
<rect x="271.85" y="324.33" width="19.06" height="19.47" fill="#dce4f5"/>
<rect x="290.11" y="324.33" width="19.06" height="19.47" fill="#a3bcdc"/>
<rect x="308.37" y="324.33" width="19.06" height="19.47" fill="#f3f7fe"/>
<rect x="326.63" y="324.33" width="19.06" height="19.47" fill="#f0f4fd"/>
<rect x="344.89" y="324.33" width="19.06" height="19.47" fill="#f2f6fe"/>
<rect x="363.15" y="324.33" width="19.06" height="19.47" fill="#dce4f5"/>
<rect x="381.41" y="324.33" width="19.06" height="19.47" fill="#e5e2ed"/>
<rect x="399.67" y="324.33" width="19.06" height="19.47" fill="#f3f7fe"/>
<rect x="417.93" y="324.33" width="19.06" height="19.47" fill="#e3eaf8"/>
<rect x="436.19" y="324.33" width="19.06" height="19.47" fill="#f1f5fd"/>
<rect x="454.44" y="324.33" width="19.06" height="19.47" fill="#d4def2"/>
<rect x="472.70" y="324.33" width="19.06" height="19.47" fill="#dce4f5"/>
<rect x="490.96" y="324.33" width="19.06" height="19.47" fill="#cad6ee"/>
<rect x="509.22" y="324.33" width="19.06" height="19.47" fill="#f3f7fe"/>
<rect x="527.48" y="324.33" width="19.06" height="19.47" fill="#f4f7fe"/>
<rect x="545.74" y="324.33" width="18.26" height="19.47" fill="#f4f7fe"/>
<rect x="71.00" y="343.00" width="19.06" height="19.47" fill="#eff4fc"/>
<rect x="89.26" y="343.00" width="19.06" height="19.47" fill="#e5ebf9"/>
<rect x="107.52" y="343.00" width="19.06" height="19.47" fill="#eef3fc"/>
<rect x="125.78" y="343.00" width="19.06" height="19.47" fill="#f0f4fd"/>
<rect x="144.04" y="343.00" width="19.06" height="19.47" fill="#f4f7fe"/>
<rect x="162.30" y="343.00" width="19.06" height="19.47" fill="#f2f6fe"/>
<rect x="180.56" y="343.00" width="19.06" height="19.47" fill="#9cb6d7"/>
<rect x="198.81" y="343.00" width="19.06" height="19.47" fill="#2b4085"/>
<rect x="217.07" y="343.00" width="19.06" height="19.47" fill="#f3f7fe"/>
<rect x="235.33" y="343.00" width="19.06" height="19.47" fill="#f0f4fd"/>
<rect x="253.59" y="343.00" width="19.06" height="19.47" fill="#f4f7fe"/>
<rect x="271.85" y="343.00" width="19.06" height="19.47" fill="#dee6f6"/>
<rect x="290.11" y="343.00" width="19.06" height="19.47" fill="#acc2e1"/>
<rect x="308.37" y="343.00" width="19.06" height="19.47" fill="#f4f7fe"/>
<rect x="326.63" y="343.00" width="19.06" height="19.47" fill="#f3f7fe"/>
<rect x="344.89" y="343.00" width="19.06" height="19.47" fill="#f3f7fe"/>
<rect x="363.15" y="343.00" width="19.06" height="19.47" fill="#d6e0f3"/>
<rect x="381.41" y="343.00" width="19.06" height="19.47" fill="#ebf1fb"/>
<rect x="399.67" y="343.00" width="19.06" height="19.47" fill="#e5e2ed"/>
<rect x="417.93" y="343.00" width="19.06" height="19.47" fill="#f1f5fd"/>
<rect x="436.19" y="343.00" width="19.06" height="19.47" fill="#f3f7fe"/>
<rect x="454.44" y="343.00" width="19.06" height="19.47" fill="#1c2260"/>
<rect x="472.70" y="343.00" width="19.06" height="19.47" fill="#ebf1fb"/>
<rect x="490.96" y="343.00" width="19.06" height="19.47" fill="#cad6ee"/>
<rect x="509.22" y="343.00" width="19.06" height="19.47" fill="#f3f7fe"/>
<rect x="527.48" y="343.00" width="19.06" height="19.47" fill="#f3f7fe"/>
<rect x="545.74" y="343.00" width="18.26" height="19.47" fill="#f4f7fe"/>
<rect x="71.00" y="361.67" width="19.06" height="19.47" fill="#ccd8ef"/>
<rect x="89.26" y="361.67" width="19.06" height="19.47" fill="#ecf1fb"/>
<rect x="107.52" y="361.67" width="19.06" height="19.47" fill="#5c80b8"/>
<rect x="125.78" y="361.67" width="19.06" height="19.47" fill="#eff4fc"/>
<rect x="144.04" y="361.67" width="19.06" height="19.47" fill="#f4f7fe"/>
<rect x="162.30" y="361.67" width="19.06" height="19.47" fill="#f2f6fe"/>
<rect x="180.56" y="361.67" width="19.06" height="19.47" fill="#cad6ee"/>
<rect x="198.81" y="361.67" width="19.06" height="19.47" fill="#1c2260"/>
<rect x="217.07" y="361.67" width="19.06" height="19.47" fill="#f2f6fe"/>
<rect x="235.33" y="361.67" width="19.06" height="19.47" fill="#c5d3ec"/>
<rect x="253.59" y="361.67" width="19.06" height="19.47" fill="#f4f7fe"/>
<rect x="271.85" y="361.67" width="19.06" height="19.47" fill="#ecf1fb"/>
<rect x="290.11" y="361.67" width="19.06" height="19.47" fill="#b3c7e4"/>
<rect x="308.37" y="361.67" width="19.06" height="19.47" fill="#f4f7fe"/>
<rect x="326.63" y="361.67" width="19.06" height="19.47" fill="#f3f7fe"/>
<rect x="344.89" y="361.67" width="19.06" height="19.47" fill="#f3f7fe"/>
<rect x="363.15" y="361.67" width="19.06" height="19.47" fill="#eaf0fb"/>
<rect x="381.41" y="361.67" width="19.06" height="19.47" fill="#a3bcdc"/>
<rect x="399.67" y="361.67" width="19.06" height="19.47" fill="#f2f6fe"/>
<rect x="417.93" y="361.67" width="19.06" height="19.47" fill="#e5e2ed"/>
<rect x="436.19" y="361.67" width="19.06" height="19.47" fill="#ecf1fb"/>
<rect x="454.44" y="361.67" width="19.06" height="19.47" fill="#dee6f6"/>
<rect x="472.70" y="361.67" width="19.06" height="19.47" fill="#eaf0fb"/>
<rect x="490.96" y="361.67" width="19.06" height="19.47" fill="#dce5f5"/>
<rect x="509.22" y="361.67" width="19.06" height="19.47" fill="#f3f7fe"/>
<rect x="527.48" y="361.67" width="19.06" height="19.47" fill="#f1f5fd"/>
<rect x="545.74" y="361.67" width="18.26" height="19.47" fill="#f4f7fe"/>
<rect x="71.00" y="380.33" width="19.06" height="19.47" fill="#9fb8d9"/>
<rect x="89.26" y="380.33" width="19.06" height="19.47" fill="#ecf1fb"/>
<rect x="107.52" y="380.33" width="19.06" height="19.47" fill="#dfe7f6"/>
<rect x="125.78" y="380.33" width="19.06" height="19.47" fill="#f0f4fd"/>
<rect x="144.04" y="380.33" width="19.06" height="19.47" fill="#f4f7fe"/>
<rect x="162.30" y="380.33" width="19.06" height="19.47" fill="#f2f6fe"/>
<rect x="180.56" y="380.33" width="19.06" height="19.47" fill="#cad6ee"/>
<rect x="198.81" y="380.33" width="19.06" height="19.47" fill="#1c2260"/>
<rect x="217.07" y="380.33" width="19.06" height="19.47" fill="#f1f5fd"/>
<rect x="235.33" y="380.33" width="19.06" height="19.47" fill="#d3ddf2"/>
<rect x="253.59" y="380.33" width="19.06" height="19.47" fill="#f4f7fe"/>
<rect x="271.85" y="380.33" width="19.06" height="19.47" fill="#eaf0fb"/>
<rect x="290.11" y="380.33" width="19.06" height="19.47" fill="#4465a6"/>
<rect x="308.37" y="380.33" width="19.06" height="19.47" fill="#f4f7fe"/>
<rect x="326.63" y="380.33" width="19.06" height="19.47" fill="#f3f7fe"/>
<rect x="344.89" y="380.33" width="19.06" height="19.47" fill="#f3f7fe"/>
<rect x="363.15" y="380.33" width="19.06" height="19.47" fill="#eaeffa"/>
<rect x="381.41" y="380.33" width="19.06" height="19.47" fill="#d6e0f3"/>
<rect x="399.67" y="380.33" width="19.06" height="19.47" fill="#f3f7fe"/>
<rect x="417.93" y="380.33" width="19.06" height="19.47" fill="#e9eefa"/>
<rect x="436.19" y="380.33" width="19.06" height="19.47" fill="#e5e2ed"/>
<rect x="454.44" y="380.33" width="19.06" height="19.47" fill="#d5dff2"/>
<rect x="472.70" y="380.33" width="19.06" height="19.47" fill="#eef3fc"/>
<rect x="490.96" y="380.33" width="19.06" height="19.47" fill="#e1e8f7"/>
<rect x="509.22" y="380.33" width="19.06" height="19.47" fill="#f2f6fe"/>
<rect x="527.48" y="380.33" width="19.06" height="19.47" fill="#cad6ee"/>
<rect x="545.74" y="380.33" width="18.26" height="19.47" fill="#f4f7fe"/>
<rect x="71.00" y="399.00" width="19.06" height="19.47" fill="#eef3fc"/>
<rect x="89.26" y="399.00" width="19.06" height="19.47" fill="#e8eefa"/>
<rect x="107.52" y="399.00" width="19.06" height="19.47" fill="#eaeffa"/>
<rect x="125.78" y="399.00" width="19.06" height="19.47" fill="#eff4fc"/>
<rect x="144.04" y="399.00" width="19.06" height="19.47" fill="#f4f7fe"/>
<rect x="162.30" y="399.00" width="19.06" height="19.47" fill="#f0f4fd"/>
<rect x="180.56" y="399.00" width="19.06" height="19.47" fill="#5a7eb7"/>
<rect x="198.81" y="399.00" width="19.06" height="19.47" fill="#1c2260"/>
<rect x="217.07" y="399.00" width="19.06" height="19.47" fill="#f2f6fe"/>
<rect x="235.33" y="399.00" width="19.06" height="19.47" fill="#ebf1fb"/>
<rect x="253.59" y="399.00" width="19.06" height="19.47" fill="#f4f7fe"/>
<rect x="271.85" y="399.00" width="19.06" height="19.47" fill="#d0daf0"/>
<rect x="290.11" y="399.00" width="19.06" height="19.47" fill="#89a8ce"/>
<rect x="308.37" y="399.00" width="19.06" height="19.47" fill="#f4f7fe"/>
<rect x="326.63" y="399.00" width="19.06" height="19.47" fill="#f3f7fe"/>
<rect x="344.89" y="399.00" width="19.06" height="19.47" fill="#f3f7fe"/>
<rect x="363.15" y="399.00" width="19.06" height="19.47" fill="#dce4f5"/>
<rect x="381.41" y="399.00" width="19.06" height="19.47" fill="#dde5f6"/>
<rect x="399.67" y="399.00" width="19.06" height="19.47" fill="#cad6ee"/>
<rect x="417.93" y="399.00" width="19.06" height="19.47" fill="#eff4fc"/>
<rect x="436.19" y="399.00" width="19.06" height="19.47" fill="#f3f7fe"/>
<rect x="454.44" y="399.00" width="19.06" height="19.47" fill="#e5e2ed"/>
<rect x="472.70" y="399.00" width="19.06" height="19.47" fill="#ebf1fb"/>
<rect x="490.96" y="399.00" width="19.06" height="19.47" fill="#b3c7e4"/>
<rect x="509.22" y="399.00" width="19.06" height="19.47" fill="#f4f7fe"/>
<rect x="527.48" y="399.00" width="19.06" height="19.47" fill="#f4f7fe"/>
<rect x="545.74" y="399.00" width="18.26" height="19.47" fill="#f4f7fe"/>
<rect x="71.00" y="417.67" width="19.06" height="19.47" fill="#eaeffa"/>
<rect x="89.26" y="417.67" width="19.06" height="19.47" fill="#dae3f4"/>
<rect x="107.52" y="417.67" width="19.06" height="19.47" fill="#ebf1fb"/>
<rect x="125.78" y="417.67" width="19.06" height="19.47" fill="#afc4e2"/>
<rect x="144.04" y="417.67" width="19.06" height="19.47" fill="#eff4fc"/>
<rect x="162.30" y="417.67" width="19.06" height="19.47" fill="#c5d3ec"/>
<rect x="180.56" y="417.67" width="19.06" height="19.47" fill="#c6d3ec"/>
<rect x="198.81" y="417.67" width="19.06" height="19.47" fill="#1c2260"/>
<rect x="217.07" y="417.67" width="19.06" height="19.47" fill="#f3f7fe"/>
<rect x="235.33" y="417.67" width="19.06" height="19.47" fill="#ecf1fb"/>
<rect x="253.59" y="417.67" width="19.06" height="19.47" fill="#f4f7fe"/>
<rect x="271.85" y="417.67" width="19.06" height="19.47" fill="#d7e0f3"/>
<rect x="290.11" y="417.67" width="19.06" height="19.47" fill="#cad6ee"/>
<rect x="308.37" y="417.67" width="19.06" height="19.47" fill="#f2f6fe"/>
<rect x="326.63" y="417.67" width="19.06" height="19.47" fill="#eff4fc"/>
<rect x="344.89" y="417.67" width="19.06" height="19.47" fill="#f3f7fe"/>
<rect x="363.15" y="417.67" width="19.06" height="19.47" fill="#d0daf0"/>
<rect x="381.41" y="417.67" width="19.06" height="19.47" fill="#ccd8ef"/>
<rect x="399.67" y="417.67" width="19.06" height="19.47" fill="#f3f7fe"/>
<rect x="417.93" y="417.67" width="19.06" height="19.47" fill="#eff4fc"/>
<rect x="436.19" y="417.67" width="19.06" height="19.47" fill="#f3f7fe"/>
<rect x="454.44" y="417.67" width="19.06" height="19.47" fill="#dee6f6"/>
<rect x="472.70" y="417.67" width="19.06" height="19.47" fill="#e5e2ed"/>
<rect x="490.96" y="417.67" width="19.06" height="19.47" fill="#b4c7e5"/>
<rect x="509.22" y="417.67" width="19.06" height="19.47" fill="#f3f7fe"/>
<rect x="527.48" y="417.67" width="19.06" height="19.47" fill="#f3f7fe"/>
<rect x="545.74" y="417.67" width="18.26" height="19.47" fill="#f4f7fe"/>
<rect x="71.00" y="436.33" width="19.06" height="19.47" fill="#eef3fc"/>
<rect x="89.26" y="436.33" width="19.06" height="19.47" fill="#d4def2"/>
<rect x="107.52" y="436.33" width="19.06" height="19.47" fill="#ecf1fb"/>
<rect x="125.78" y="436.33" width="19.06" height="19.47" fill="#eaf0fb"/>
<rect x="144.04" y="436.33" width="19.06" height="19.47" fill="#f4f7fe"/>
<rect x="162.30" y="436.33" width="19.06" height="19.47" fill="#eff4fc"/>
<rect x="180.56" y="436.33" width="19.06" height="19.47" fill="#a1bada"/>
<rect x="198.81" y="436.33" width="19.06" height="19.47" fill="#1c2260"/>
<rect x="217.07" y="436.33" width="19.06" height="19.47" fill="#f3f7fe"/>
<rect x="235.33" y="436.33" width="19.06" height="19.47" fill="#eef3fc"/>
<rect x="253.59" y="436.33" width="19.06" height="19.47" fill="#f3f7fe"/>
<rect x="271.85" y="436.33" width="19.06" height="19.47" fill="#a7bede"/>
<rect x="290.11" y="436.33" width="19.06" height="19.47" fill="#bdcde8"/>
<rect x="308.37" y="436.33" width="19.06" height="19.47" fill="#f2f6fe"/>
<rect x="326.63" y="436.33" width="19.06" height="19.47" fill="#f2f6fe"/>
<rect x="344.89" y="436.33" width="19.06" height="19.47" fill="#f3f7fe"/>
<rect x="363.15" y="436.33" width="19.06" height="19.47" fill="#cdd9ef"/>
<rect x="381.41" y="436.33" width="19.06" height="19.47" fill="#e1e8f7"/>
<rect x="399.67" y="436.33" width="19.06" height="19.47" fill="#eef3fc"/>
<rect x="417.93" y="436.33" width="19.06" height="19.47" fill="#f1f5fd"/>
<rect x="436.19" y="436.33" width="19.06" height="19.47" fill="#f3f7fe"/>
<rect x="454.44" y="436.33" width="19.06" height="19.47" fill="#c0d0ea"/>
<rect x="472.70" y="436.33" width="19.06" height="19.47" fill="#e1e8f7"/>
<rect x="490.96" y="436.33" width="19.06" height="19.47" fill="#e5e2ed"/>
<rect x="509.22" y="436.33" width="19.06" height="19.47" fill="#f3f7fe"/>
<rect x="527.48" y="436.33" width="19.06" height="19.47" fill="#f4f7fe"/>
<rect x="545.74" y="436.33" width="18.26" height="19.47" fill="#f4f7fe"/>
<rect x="71.00" y="455.00" width="19.06" height="19.47" fill="#cdd9ef"/>
<rect x="89.26" y="455.00" width="19.06" height="19.47" fill="#e6ecf9"/>
<rect x="107.52" y="455.00" width="19.06" height="19.47" fill="#dee6f6"/>
<rect x="125.78" y="455.00" width="19.06" height="19.47" fill="#eef3fc"/>
<rect x="144.04" y="455.00" width="19.06" height="19.47" fill="#f4f7fe"/>
<rect x="162.30" y="455.00" width="19.06" height="19.47" fill="#f2f6fe"/>
<rect x="180.56" y="455.00" width="19.06" height="19.47" fill="#c2d1eb"/>
<rect x="198.81" y="455.00" width="19.06" height="19.47" fill="#1c2260"/>
<rect x="217.07" y="455.00" width="19.06" height="19.47" fill="#c4d2ec"/>
<rect x="235.33" y="455.00" width="19.06" height="19.47" fill="#c4d2ec"/>
<rect x="253.59" y="455.00" width="19.06" height="19.47" fill="#f4f7fe"/>
<rect x="271.85" y="455.00" width="19.06" height="19.47" fill="#edf2fc"/>
<rect x="290.11" y="455.00" width="19.06" height="19.47" fill="#7c9fc9"/>
<rect x="308.37" y="455.00" width="19.06" height="19.47" fill="#f3f7fe"/>
<rect x="326.63" y="455.00" width="19.06" height="19.47" fill="#f3f7fe"/>
<rect x="344.89" y="455.00" width="19.06" height="19.47" fill="#f3f7fe"/>
<rect x="363.15" y="455.00" width="19.06" height="19.47" fill="#dae3f4"/>
<rect x="381.41" y="455.00" width="19.06" height="19.47" fill="#cad6ee"/>
<rect x="399.67" y="455.00" width="19.06" height="19.47" fill="#f3f7fe"/>
<rect x="417.93" y="455.00" width="19.06" height="19.47" fill="#e7edf9"/>
<rect x="436.19" y="455.00" width="19.06" height="19.47" fill="#eef3fc"/>
<rect x="454.44" y="455.00" width="19.06" height="19.47" fill="#d6e0f3"/>
<rect x="472.70" y="455.00" width="19.06" height="19.47" fill="#eaf0fb"/>
<rect x="490.96" y="455.00" width="19.06" height="19.47" fill="#d0dbf1"/>
<rect x="509.22" y="455.00" width="19.06" height="19.47" fill="#e5e2ed"/>
<rect x="527.48" y="455.00" width="19.06" height="19.47" fill="#f2f6fe"/>
<rect x="545.74" y="455.00" width="18.26" height="19.47" fill="#f3f7fe"/>
<rect x="71.00" y="473.67" width="19.06" height="19.47" fill="#83a4cc"/>
<rect x="89.26" y="473.67" width="19.06" height="19.47" fill="#ebf1fb"/>
<rect x="107.52" y="473.67" width="19.06" height="19.47" fill="#e2e9f7"/>
<rect x="125.78" y="473.67" width="19.06" height="19.47" fill="#eff4fc"/>
<rect x="144.04" y="473.67" width="19.06" height="19.47" fill="#f4f7fe"/>
<rect x="162.30" y="473.67" width="19.06" height="19.47" fill="#f2f6fe"/>
<rect x="180.56" y="473.67" width="19.06" height="19.47" fill="#d3ddf2"/>
<rect x="198.81" y="473.67" width="19.06" height="19.47" fill="#1c2260"/>
<rect x="217.07" y="473.67" width="19.06" height="19.47" fill="#f1f5fd"/>
<rect x="235.33" y="473.67" width="19.06" height="19.47" fill="#c6d3ec"/>
<rect x="253.59" y="473.67" width="19.06" height="19.47" fill="#f4f7fe"/>
<rect x="271.85" y="473.67" width="19.06" height="19.47" fill="#f0f4fd"/>
<rect x="290.11" y="473.67" width="19.06" height="19.47" fill="#4668a8"/>
<rect x="308.37" y="473.67" width="19.06" height="19.47" fill="#f3f7fe"/>
<rect x="326.63" y="473.67" width="19.06" height="19.47" fill="#f2f6fe"/>
<rect x="344.89" y="473.67" width="19.06" height="19.47" fill="#f3f7fe"/>
<rect x="363.15" y="473.67" width="19.06" height="19.47" fill="#e0e8f7"/>
<rect x="381.41" y="473.67" width="19.06" height="19.47" fill="#d5dff2"/>
<rect x="399.67" y="473.67" width="19.06" height="19.47" fill="#f3f7fe"/>
<rect x="417.93" y="473.67" width="19.06" height="19.47" fill="#e7edf9"/>
<rect x="436.19" y="473.67" width="19.06" height="19.47" fill="#a5bcdc"/>
<rect x="454.44" y="473.67" width="19.06" height="19.47" fill="#dee6f6"/>
<rect x="472.70" y="473.67" width="19.06" height="19.47" fill="#eef3fc"/>
<rect x="490.96" y="473.67" width="19.06" height="19.47" fill="#e3eaf8"/>
<rect x="509.22" y="473.67" width="19.06" height="19.47" fill="#f2f6fe"/>
<rect x="527.48" y="473.67" width="19.06" height="19.47" fill="#e5e2ed"/>
<rect x="545.74" y="473.67" width="18.26" height="19.47" fill="#f4f7fe"/>
<rect x="71.00" y="492.33" width="19.06" height="18.67" fill="#ebf1fb"/>
<rect x="89.26" y="492.33" width="19.06" height="18.67" fill="#e1e8f7"/>
<rect x="107.52" y="492.33" width="19.06" height="18.67" fill="#f1f5fd"/>
<rect x="125.78" y="492.33" width="19.06" height="18.67" fill="#f2f6fe"/>
<rect x="144.04" y="492.33" width="19.06" height="18.67" fill="#f4f7fe"/>
<rect x="162.30" y="492.33" width="19.06" height="18.67" fill="#f3f7fe"/>
<rect x="180.56" y="492.33" width="19.06" height="18.67" fill="#d3ddf2"/>
<rect x="198.81" y="492.33" width="19.06" height="18.67" fill="#4c6fac"/>
<rect x="217.07" y="492.33" width="19.06" height="18.67" fill="#1c2260"/>
<rect x="235.33" y="492.33" width="19.06" height="18.67" fill="#eff4fc"/>
<rect x="253.59" y="492.33" width="19.06" height="18.67" fill="#f4f7fe"/>
<rect x="271.85" y="492.33" width="19.06" height="18.67" fill="#e0e8f7"/>
<rect x="290.11" y="492.33" width="19.06" height="18.67" fill="#92afd2"/>
<rect x="308.37" y="492.33" width="19.06" height="18.67" fill="#f4f7fe"/>
<rect x="326.63" y="492.33" width="19.06" height="18.67" fill="#f3f7fe"/>
<rect x="344.89" y="492.33" width="19.06" height="18.67" fill="#f3f7fe"/>
<rect x="363.15" y="492.33" width="19.06" height="18.67" fill="#dce4f5"/>
<rect x="381.41" y="492.33" width="19.06" height="18.67" fill="#edf2fc"/>
<rect x="399.67" y="492.33" width="19.06" height="18.67" fill="#f3f7fe"/>
<rect x="417.93" y="492.33" width="19.06" height="18.67" fill="#f3f7fe"/>
<rect x="436.19" y="492.33" width="19.06" height="18.67" fill="#f3f7fe"/>
<rect x="454.44" y="492.33" width="19.06" height="18.67" fill="#c8d5ed"/>
<rect x="472.70" y="492.33" width="19.06" height="18.67" fill="#eef3fc"/>
<rect x="490.96" y="492.33" width="19.06" height="18.67" fill="#5e82b9"/>
<rect x="509.22" y="492.33" width="19.06" height="18.67" fill="#f1f5fd"/>
<rect x="527.48" y="492.33" width="19.06" height="18.67" fill="#f4f7fe"/>
<rect x="545.74" y="492.33" width="18.26" height="18.67" fill="#e5e2ed"/>
</g>
<defs><linearGradient id="cb" x1="0" y1="1" x2="0" y2="0">
<stop offset="0.000" stop-color="#f6f9ff"/>
<stop offset="0.100" stop-color="#dee6f6"/>
<stop offset="0.200" stop-color="#cad6ee"/>
<stop offset="0.300" stop-color="#b2c6e4"/>
<stop offset="0.400" stop-color="#96b2d4"/>
<stop offset="0.500" stop-color="#769ac6"/>
<stop offset="0.600" stop-color="#5c80b8"/>
<stop offset="0.700" stop-color="#4668a8"/>
<stop offset="0.800" stop-color="#334f96"/>
<stop offset="0.900" stop-color="#25367a"/>
<stop offset="1.000" stop-color="#1c2260"/>
</linearGradient></defs>
<rect x="595" y="7.0" width="25" height="504.0" fill="url(#cb)"/>
<line x1="620" y1="511.40" x2="628.5" y2="511.40" stroke="#262626" stroke-width="1.4"/>
<text transform="translate(633.6,516.90) scale(1,1.06)" font-size="15">0.00</text>
<line x1="620" y1="410.60" x2="628.5" y2="410.60" stroke="#262626" stroke-width="1.4"/>
<text transform="translate(633.6,416.10) scale(1,1.06)" font-size="15">0.05</text>
<line x1="620" y1="309.80" x2="628.5" y2="309.80" stroke="#262626" stroke-width="1.4"/>
<text transform="translate(633.6,315.30) scale(1,1.06)" font-size="15">0.10</text>
<line x1="620" y1="209.00" x2="628.5" y2="209.00" stroke="#262626" stroke-width="1.4"/>
<text transform="translate(633.6,214.50) scale(1,1.06)" font-size="15">0.15</text>
<line x1="620" y1="108.20" x2="628.5" y2="108.20" stroke="#262626" stroke-width="1.4"/>
<text transform="translate(633.6,113.70) scale(1,1.06)" font-size="15">0.20</text>
<line x1="620" y1="7.40" x2="628.5" y2="7.40" stroke="#262626" stroke-width="1.4"/>
<text transform="translate(633.6,12.90) scale(1,1.06)" font-size="15">0.25</text>
<text transform="translate(57.6,21.73) scale(1,1.06)" font-size="15" text-anchor="end">AUT</text>
<text transform="translate(57.6,40.40) scale(1,1.06)" font-size="15" text-anchor="end">BEL</text>
<text transform="translate(57.6,59.07) scale(1,1.06)" font-size="15" text-anchor="end">CZE</text>
<text transform="translate(57.6,77.73) scale(1,1.06)" font-size="15" text-anchor="end">DNK</text>
<text transform="translate(57.6,96.40) scale(1,1.06)" font-size="15" text-anchor="end">EST</text>
<text transform="translate(57.6,115.07) scale(1,1.06)" font-size="15" text-anchor="end">FIN</text>
<text transform="translate(57.6,133.73) scale(1,1.06)" font-size="15" text-anchor="end">FRA</text>
<text transform="translate(57.6,152.40) scale(1,1.06)" font-size="15" text-anchor="end">DEU</text>
<text transform="translate(57.6,171.07) scale(1,1.06)" font-size="15" text-anchor="end">GRC</text>
<text transform="translate(57.6,189.73) scale(1,1.06)" font-size="15" text-anchor="end">HUN</text>
<text transform="translate(57.6,208.40) scale(1,1.06)" font-size="15" text-anchor="end">ISL</text>
<text transform="translate(57.6,227.07) scale(1,1.06)" font-size="15" text-anchor="end">IRL</text>
<text transform="translate(57.6,245.73) scale(1,1.06)" font-size="15" text-anchor="end">ITA</text>
<text transform="translate(57.6,264.40) scale(1,1.06)" font-size="15" text-anchor="end">LVA</text>
<text transform="translate(57.6,283.07) scale(1,1.06)" font-size="15" text-anchor="end">LTU</text>
<text transform="translate(57.6,301.73) scale(1,1.06)" font-size="15" text-anchor="end">LUX</text>
<text transform="translate(57.6,320.40) scale(1,1.06)" font-size="15" text-anchor="end">NLD</text>
<text transform="translate(57.6,339.07) scale(1,1.06)" font-size="15" text-anchor="end">POL</text>
<text transform="translate(57.6,357.73) scale(1,1.06)" font-size="15" text-anchor="end">PRT</text>
<text transform="translate(57.6,376.40) scale(1,1.06)" font-size="15" text-anchor="end">SVK</text>
<text transform="translate(57.6,395.07) scale(1,1.06)" font-size="15" text-anchor="end">SVN</text>
<text transform="translate(57.6,413.73) scale(1,1.06)" font-size="15" text-anchor="end">ESP</text>
<text transform="translate(57.6,432.40) scale(1,1.06)" font-size="15" text-anchor="end">SWE</text>
<text transform="translate(57.6,451.07) scale(1,1.06)" font-size="15" text-anchor="end">GBR</text>
<text transform="translate(57.6,469.73) scale(1,1.06)" font-size="15" text-anchor="end">BGR</text>
<text transform="translate(57.6,488.40) scale(1,1.06)" font-size="15" text-anchor="end">HRV</text>
<text transform="translate(57.6,507.07) scale(1,1.06)" font-size="15" text-anchor="end">CYP</text>
<text transform="translate(83.53,524.00) rotate(-90) scale(1,1.06)" font-size="15" text-anchor="end">AUT</text>
<text transform="translate(103.59,525.00) rotate(-90) scale(1,1.06)" font-size="15" text-anchor="end">BEL</text>
<text transform="translate(121.85,525.00) rotate(-90) scale(1,1.06)" font-size="15" text-anchor="end">CZE</text>
<text transform="translate(140.11,525.00) rotate(-90) scale(1,1.06)" font-size="15" text-anchor="end">DNK</text>
<text transform="translate(158.37,525.00) rotate(-90) scale(1,1.06)" font-size="15" text-anchor="end">EST</text>
<text transform="translate(176.63,525.00) rotate(-90) scale(1,1.06)" font-size="15" text-anchor="end">FIN</text>
<text transform="translate(194.89,525.00) rotate(-90) scale(1,1.06)" font-size="15" text-anchor="end">FRA</text>
<text transform="translate(213.14,525.00) rotate(-90) scale(1,1.06)" font-size="15" text-anchor="end">DEU</text>
<text transform="translate(231.40,525.00) rotate(-90) scale(1,1.06)" font-size="15" text-anchor="end">GRC</text>
<text transform="translate(249.66,525.00) rotate(-90) scale(1,1.06)" font-size="15" text-anchor="end">HUN</text>
<text transform="translate(267.92,525.00) rotate(-90) scale(1,1.06)" font-size="15" text-anchor="end">ISL</text>
<text transform="translate(286.18,525.00) rotate(-90) scale(1,1.06)" font-size="15" text-anchor="end">IRL</text>
<text transform="translate(304.44,525.00) rotate(-90) scale(1,1.06)" font-size="15" text-anchor="end">ITA</text>
<text transform="translate(322.70,525.00) rotate(-90) scale(1,1.06)" font-size="15" text-anchor="end">LVA</text>
<text transform="translate(340.96,525.00) rotate(-90) scale(1,1.06)" font-size="15" text-anchor="end">LTU</text>
<text transform="translate(359.22,525.00) rotate(-90) scale(1,1.06)" font-size="15" text-anchor="end">LUX</text>
<text transform="translate(377.48,525.00) rotate(-90) scale(1,1.06)" font-size="15" text-anchor="end">NLD</text>
<text transform="translate(395.74,525.00) rotate(-90) scale(1,1.06)" font-size="15" text-anchor="end">POL</text>
<text transform="translate(414.00,525.00) rotate(-90) scale(1,1.06)" font-size="15" text-anchor="end">PRT</text>
<text transform="translate(432.26,525.00) rotate(-90) scale(1,1.06)" font-size="15" text-anchor="end">SVK</text>
<text transform="translate(450.51,525.00) rotate(-90) scale(1,1.06)" font-size="15" text-anchor="end">SVN</text>
<text transform="translate(468.77,525.00) rotate(-90) scale(1,1.06)" font-size="15" text-anchor="end">ESP</text>
<text transform="translate(487.03,525.00) rotate(-90) scale(1,1.06)" font-size="15" text-anchor="end">SWE</text>
<text transform="translate(505.29,525.00) rotate(-90) scale(1,1.06)" font-size="15" text-anchor="end">GBR</text>
<text transform="translate(523.55,525.00) rotate(-90) scale(1,1.06)" font-size="15" text-anchor="end">BGR</text>
<text transform="translate(541.81,525.00) rotate(-90) scale(1,1.06)" font-size="15" text-anchor="end">HRV</text>
<text transform="translate(560.07,525.00) rotate(-90) scale(1,1.06)" font-size="15" text-anchor="end">CYP</text>
<text x="317.75" y="575.8" font-size="16.5" text-anchor="middle">Value Added Source Country</text>
<text transform="translate(14.0,258.75) rotate(-90)" font-size="16.5" text-anchor="middle">Country of Final Demand</text>
</svg></body></html>
